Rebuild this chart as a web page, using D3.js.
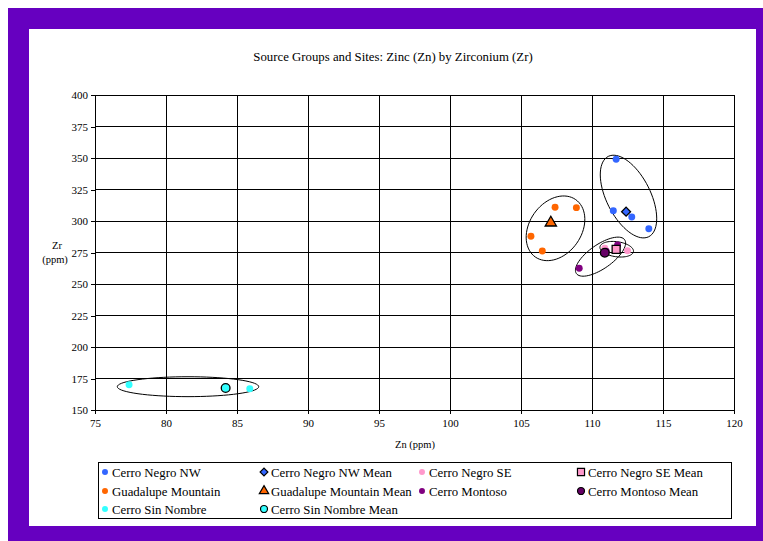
<!DOCTYPE html>
<html><head><meta charset="utf-8">
<script src="https://cdn.jsdelivr.net/npm/d3@7"></script>
<style>body{margin:0;background:#fff}svg{display:block}</style>
</head><body>
<script>
// ---- data ----
const xTicks = [75,80,85,90,95,100,105,110,115,120];
const yTicks = [150,175,200,225,250,275,300,325,350,375,400];
const seriesNames = ["Cerro Negro NW","Cerro Negro NW Mean","Cerro Negro SE","Cerro Negro SE Mean",
  "Guadalupe Mountain","Guadalupe Mountain Mean","Cerro Montoso","Cerro Montoso Mean",
  "Cerro Sin Nombre","Cerro Sin Nombre Mean"];
const cerroNegroNW = [[111.7,349],[111.5,308.2],[112.8,303.2],[114.0,293.9]];
const cerroNegroNWMean = [[112.4,307.4]];
const cerroNegroSE = [[110.9,278.3],[112.5,276.4],[111.7,278]];
const cerroNegroSEMean = [[111.7,277.5]];
const guadalupe = [[107.4,310.9],[108.9,310.6],[105.7,287.9],[106.5,276.2]];
const guadalupeMean = [[107.1,298.6]];
const cerroMontoso = [[111.8,281],[109.1,262.5],[111.0,276]];
const cerroMontosoMean = [[110.9,274.8]];
const cerroSinNombre = [[77.4,170.1],[85.9,166.9]];
const cerroSinNombreMean = [[84.2,167.5]];
// group ellipses: centre, end of one semi-axis, end of the other (data units)
const ellipses = [
  {c:[112.57,319.4], a:[113.99,287.5], b:[111.18,311.7]},
  {c:[107.43,294.2], a:[108.85,317.0], b:[108.93,282.4]},
  {c:[110.60,271.7], a:[112.30,285.1], b:[111.08,263.9]},
  {c:[111.74,277.6], a:[112.92,275.7], b:[111.66,271.7]},
  {c:[81.55,168.5], a:[86.53,168.5], b:[81.55,160.6]}
];

const FONT = "Liberation Serif";
const W=763,H=541;
const svg=d3.select("body").append("svg").attr("width",W).attr("height",H);
svg.append("rect").attr("x",8).attr("y",8).attr("width",W-8).attr("height",H-8).attr("fill","#6600C0");
svg.append("rect").attr("x",29).attr("y",29).attr("width",727).attr("height",497).attr("fill","#fff");

const x=d3.scaleLinear().domain([75,120]).range([95,734]);
const y=d3.scaleLinear().domain([150,400]).range([410,95]);

function txt(xp,yp,s,size,anchor){
  return svg.append("text").attr("x",xp).attr("y",yp).attr("text-anchor",anchor||"start")
    .attr("font-family",FONT).attr("font-size",size).attr("fill","#000").text(s);
}
txt(393,61,"Source Groups and Sites: Zinc (Zn) by Zirconium (Zr)",12.8,"middle");

// grid
const g=svg.append("g");
g.selectAll(".vg").data(xTicks).join("line").attr("x1",d=>x(d)).attr("x2",d=>x(d))
  .attr("y1",y(400)).attr("y2",y(150)).attr("stroke","#000").attr("stroke-width",1).attr("shape-rendering","crispEdges");
g.selectAll(".hg").data(yTicks).join("line").attr("y1",d=>y(d)).attr("y2",d=>y(d))
  .attr("x1",x(75)).attr("x2",x(120)).attr("stroke","#000").attr("stroke-width",1).attr("shape-rendering","crispEdges");

const xa=svg.append("g").attr("transform",`translate(0,${y(150)})`)
  .call(d3.axisBottom(x).tickValues(xTicks).tickSize(4).tickPadding(5).tickFormat(d3.format("d")));
const ya=svg.append("g").attr("transform",`translate(${x(75)},0)`)
  .call(d3.axisLeft(y).tickValues(yTicks).tickSize(4).tickPadding(3).tickFormat(d3.format("d")));
[xa,ya].forEach(a=>{a.attr("font-family",FONT).attr("font-size",11);
  a.select(".domain").attr("stroke","#000").attr("shape-rendering","crispEdges");
  a.selectAll(".tick line").attr("stroke","#000").attr("shape-rendering","crispEdges");
  a.selectAll("text").attr("fill","#000");});

txt(415,448,"Zn (ppm)",10.5,"middle");
txt(57,249,"Zr",10.5,"middle");
txt(55,263,"(ppm)",10.5,"middle");

// ellipses
const ellLine=d3.line();
svg.selectAll(".ell").data(ellipses).join("path").attr("fill","none").attr("stroke","#000").attr("stroke-width",1)
  .attr("d",e=>{
    const cx=x(e.c[0]),cy=y(e.c[1]);
    const ax=x(e.a[0])-cx,ay=y(e.a[1])-cy,bx=x(e.b[0])-cx,by=y(e.b[1])-cy;
    const pts=d3.range(0,73).map(i=>{const t=i/72*2*Math.PI;
      return [cx+ax*Math.cos(t)+bx*Math.sin(t), cy+ay*Math.cos(t)+by*Math.sin(t)];});
    return ellLine(pts)+"Z";});

const styles = [
  {data:cerroNegroNW, shape:d3.symbolCircle, size:38, fill:"#3366FF", stroke:"none"},
  {data:cerroNegroNWMean, shape:d3.symbolSquare, size:40, rot:45, fill:"#3366FF", stroke:"#000"},
  {data:cerroNegroSE, shape:d3.symbolCircle, size:38, fill:"#FF99CC", stroke:"none"},
  {data:cerroNegroSEMean, shape:d3.symbolSquare, size:64, fill:"#FF99CC", stroke:"#000"},
  {data:guadalupe, shape:d3.symbolCircle, size:38, fill:"#FF6600", stroke:"none"},
  {data:guadalupeMean, shape:d3.symbolTriangle, size:55, fill:"#FF6600", stroke:"#000"},
  {data:cerroMontoso, shape:d3.symbolCircle, size:38, fill:"#800080", stroke:"none"},
  {data:cerroMontosoMean, shape:d3.symbolCircle, size:60, fill:"#660066", stroke:"#000"},
  {data:cerroSinNombre, shape:d3.symbolCircle, size:38, fill:"#33FFFF", stroke:"none"},
  {data:cerroSinNombreMean, shape:d3.symbolCircle, size:60, fill:"#33FFFF", stroke:"#000"}
];
const drawOrder=[0,2,4,6,8,1,3,5,7,9];
drawOrder.forEach(i=>{const s=styles[i];
  svg.append("g").selectAll("path").data(s.data).join("path")
    .attr("transform",d=>`translate(${x(d[0])},${y(d[1])}) rotate(${s.rot||0})`)
    .attr("d",d3.symbol().type(s.shape).size(s.size))
    .attr("fill",s.fill).attr("stroke",s.stroke).attr("stroke-width",1.3);});

// legend
svg.append("rect").attr("x",98.5).attr("y",462.5).attr("width",633).attr("height",56).attr("fill","#fff").attr("stroke","#000");
const colX=[105,264,422,581], rowY=[472,491,509];
styles.forEach((s,k)=>{const cx=colX[k%4], cy=rowY[Math.floor(k/4)];
  const sz = s.stroke==="none"?28:(s.shape===d3.symbolSquare?(s.rot?30:50):38);
  svg.append("path").attr("transform",`translate(${cx},${cy}) rotate(${s.rot||0})`).attr("d",d3.symbol().type(s.shape).size(sz))
    .attr("fill",s.fill).attr("stroke",s.stroke).attr("stroke-width",1.2);
  txt(cx+7,cy+4.5,seriesNames[k],12.8);});
</script>
</body></html>
